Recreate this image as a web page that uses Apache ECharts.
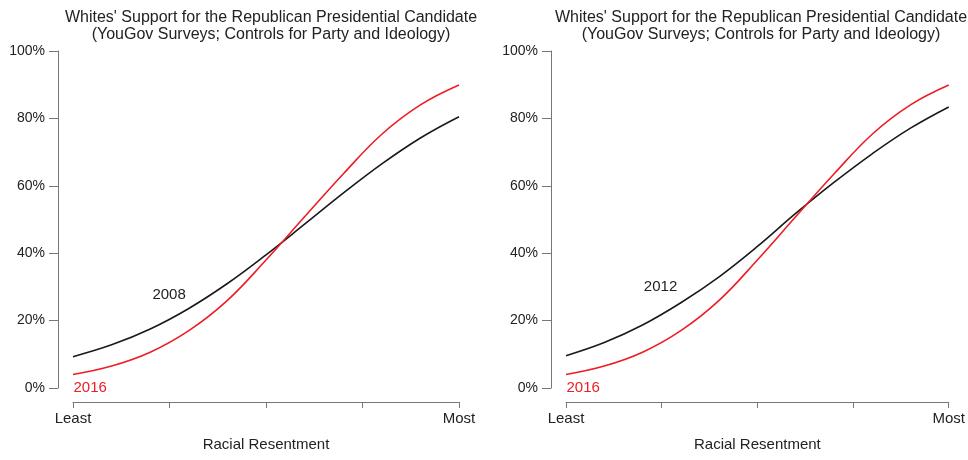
<!DOCTYPE html>
<html>
<head>
<meta charset="utf-8">
<script src="https://cdn.jsdelivr.net/npm/echarts@6/dist/echarts.min.js"></script>
<style>
html,body{margin:0;padding:0;background:#fff;}
#chart{width:968px;height:460px;}
</style>
</head>
<body>
<div id="chart"></div>
<script>
// ---- data ----
const xPositions = [0, 0.1, 0.2, 0.3, 0.4, 0.5, 0.6, 0.7, 0.8, 0.9, 1.0];
const support2008 = [9.3, 12.8, 17.5, 23.6, 31.0, 39.5, 48.6, 57.8, 66.5, 74.2, 80.5];
const support2012 = [9.6, 13.5, 18.7, 25.3, 33.0, 42.0, 51.8, 61.0, 69.5, 77.1, 83.4];
const support2016 = [4.0, 6.5, 10.6, 17.0, 26.0, 38.0, 50.8, 63.5, 75.3, 84.0, 89.9];
const xTickLabels = {0: 'Least', 1: 'Most'};
const titleText = "Whites' Support for the Republican Presidential Candidate\n(YouGov Surveys; Controls for Party and Ideology)";
const xName = 'Racial Resentment';
const panels = [
  {year: '2008', values: support2008, labelAt: [0.249, 27.6]},
  {year: '2012', values: support2012, labelAt: [0.247, 30.0]}
];
const label2016At = [0, 0];

const pairs = arr => xPositions.map((x, i) => [x, arr[i]]);
const font = 'Liberation Sans, Arial, Helvetica, sans-serif';
const txt = '#222';
const axisCol = '#777';
const red = '#ee1c25';
const black = '#1a1a1a';

const grids = [
  {left: 73, right: 509, top: 51, bottom: 72},
  {left: 566, right: 18, top: 51, bottom: 72}
];
const titleCenters = [266, 756];

const option = {
  backgroundColor: '#fff',
  animation: false,
  textStyle: {fontFamily: font},
  title: titleCenters.map(c => ({
    text: titleText,
    left: c, top: 4, textAlign: 'center',
    textStyle: {fontFamily: font, fontSize: 16, fontWeight: 'normal', color: txt, lineHeight: 17}
  })),
  grid: grids,
  xAxis: grids.map((g, i) => ({
    type: 'value', gridIndex: i, min: 0, max: 1, interval: 0.25,
    offset: 14,
    name: xName, nameLocation: 'middle', nameGap: 35,
    nameTextStyle: {fontFamily: font, fontSize: 15, color: txt},
    axisLine: {show: true, onZero: false, lineStyle: {color: axisCol, width: 1}},
    axisTick: {show: true, length: 6, lineStyle: {color: axisCol}},
    axisLabel: {show: true, margin: 9, fontFamily: font, fontSize: 15, color: txt,
      showMinLabel: true, showMaxLabel: true,
      formatter: v => (xTickLabels[v] !== undefined ? xTickLabels[v] : '')},
    splitLine: {show: false}
  })),
  yAxis: grids.map((g, i) => ({
    type: 'value', gridIndex: i, min: 0, max: 100, interval: 20,
    offset: 15,
    axisLine: {show: true, onZero: false, lineStyle: {color: axisCol, width: 1}},
    axisTick: {show: true, length: 9, lineStyle: {color: axisCol}},
    axisLabel: {show: true, margin: 13, fontFamily: font, fontSize: 14, color: txt,
      formatter: '{value}%'},
    splitLine: {show: false}
  })),
  series: []
};

panels.forEach((p, i) => {
  option.series.push({
    type: 'line', xAxisIndex: i, yAxisIndex: i, name: p.year,
    data: pairs(p.values), showSymbol: false, smooth: 0.4,
    lineStyle: {color: black, width: 1.6}
  });
  option.series.push({
    type: 'line', xAxisIndex: i, yAxisIndex: i, name: '2016',
    data: pairs(support2016), showSymbol: false, smooth: 0.4,
    lineStyle: {color: red, width: 1.6}
  });
  option.series.push({
    type: 'scatter', xAxisIndex: i, yAxisIndex: i, silent: true,
    symbolSize: 1, itemStyle: {color: 'rgba(0,0,0,0)', opacity: 1},
    data: [{value: p.labelAt, name: p.year}],
    label: {show: true, position: 'inside', formatter: p.year, opacity: 1,
      fontFamily: font, fontSize: 15, color: txt}
  });
  option.series.push({
    type: 'scatter', xAxisIndex: i, yAxisIndex: i, silent: true,
    symbolSize: 1, itemStyle: {color: 'rgba(0,0,0,0)', opacity: 1},
    data: [{value: label2016At, name: '2016'}],
    label: {show: true, position: 'right', distance: 0, formatter: '2016', opacity: 1,
      fontFamily: font, fontSize: 15, color: red}
  });
});

const chart = echarts.init(document.getElementById('chart'), null, {renderer: 'canvas'});
chart.setOption(option);
</script>
</body>
</html>
